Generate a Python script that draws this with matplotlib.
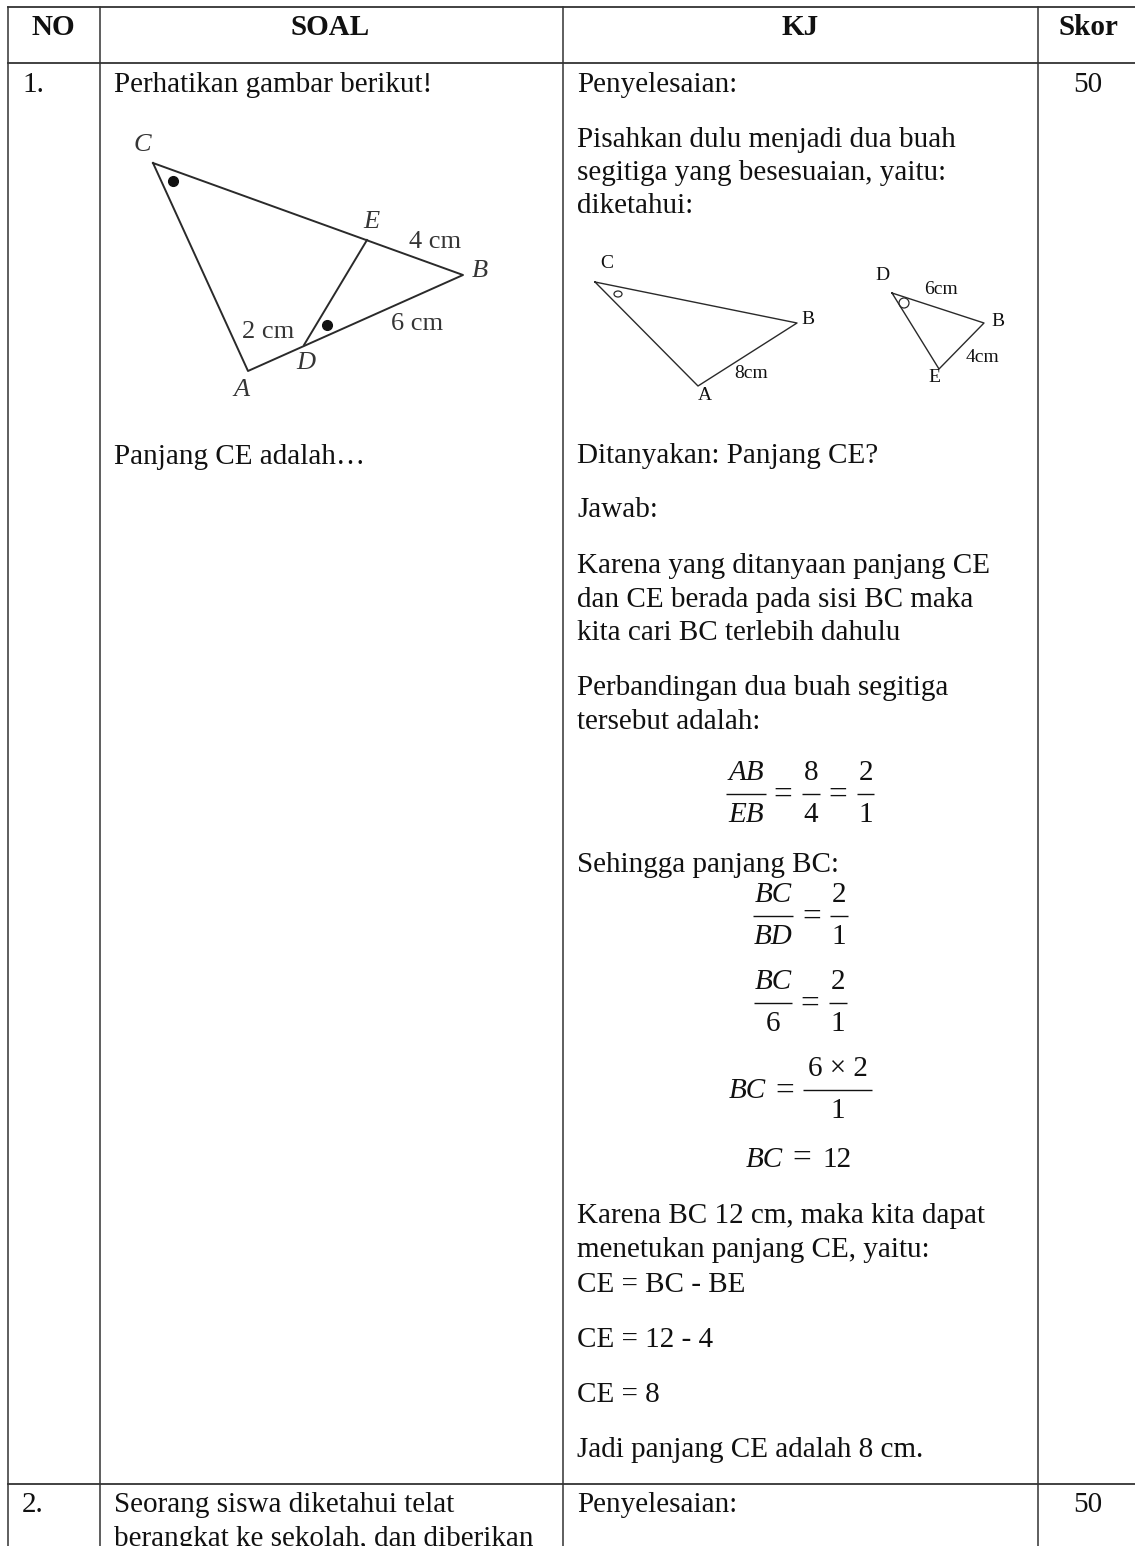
import matplotlib
matplotlib.use('Agg')
import matplotlib.pyplot as plt
from matplotlib.patches import Ellipse

W, H = 1135, 1546
SERIF = 'Liberation Serif'
FS = 21
INK = '#111111'

col_x = [7.5, 100, 563, 1038, 1135]
row_y = [7, 63, 1484]

headers = ['NO', 'SOAL', 'KJ', 'Skor']
header_x = [53, 330, 800, 1088]

# text rows as (text, baseline in picture pixels)
col_no = [('1.', 92), ('2.', 1512)]
col_skor = [('50', 92), ('50', 1512)]
col_soal = [('Perhatikan gambar berikut!', 92),
            ('Panjang CE adalah…', 464),
            ('Seorang siswa diketahui telat', 1512),
            ('berangkat ke sekolah, dan diberikan', 1546)]
col_kj = [('Penyelesaian:', 92),
          ('Pisahkan dulu menjadi dua buah', 147),
          ('segitiga yang besesuaian, yaitu:', 180),
          ('diketahui:', 213),
          ('Ditanyakan: Panjang CE?', 463),
          ('Jawab:', 517),
          ('Karena yang ditanyaan panjang CE', 573),
          ('dan CE berada pada sisi BC maka', 607),
          ('kita cari BC terlebih dahulu', 640),
          ('Perbandingan dua buah segitiga', 695),
          ('tersebut adalah:', 729),
          ('Sehingga panjang BC:', 872),
          ('Karena BC 12 cm, maka kita dapat', 1223),
          ('menetukan panjang CE, yaitu:', 1257),
          ('CE = BC - BE', 1292),
          ('CE = 12 - 4', 1347),
          ('CE = 8', 1402),
          ('Jadi panjang CE adalah 8 cm.', 1457),
          ('Penyelesaian:', 1512)]

# triangle figures, in picture pixels
fig1_lines = [[(153, 163), (463, 275), (248, 371), (153, 163)], [(367, 240), (304, 345)]]
fig1_dots = [(173, 181), (327, 325)]
fig1_labels = [('C', 142, 145, True), ('E', 371, 222, True), ('4 cm', 435, 242, False),
               ('B', 480, 271, True), ('2 cm', 268, 332, False), ('6 cm', 417, 324, False),
               ('D', 306, 363, True), ('A', 242, 390, True)]
fig2_lines = [[(595, 282), (797, 323), (698, 386), (595, 282)],
              [(892, 293), (984, 323), (939, 369), (892, 293)]]
fig2_circles = [(618, 294, 8, 6), (904, 303, 10, 10)]
fig2_labels = [('C', 607, 263), ('B', 808, 320), ('8cm', 751, 374), ('A', 705, 395),
               ('D', 882, 276), ('6cm', 941, 290), ('B', 998, 322), ('4cm', 982, 357),
               ('E', 934, 377)]

fig = plt.figure(figsize=(W / 100, H / 100), dpi=100)
ax = fig.add_axes([0, 0, 1, 1])
ax.set_xlim(0, W)
ax.set_ylim(H, 0)
ax.axis('off')


def put(x, y, s, ha='left', size=FS, va='baseline', **kw):
    ax.text(x, y, s, ha=ha, va=va, family=SERIF, fontsize=size, color=INK, **kw)


def equals(x, y):
    put(x, y + 10, '=', ha='center', size=24)


def frac(x0, x1, y, num, den):
    # fraction with bar from x0 to x1 at height y
    ax.plot([x0, x1], [y, y], color=INK, lw=1.0, solid_capstyle='butt')
    xc = (x0 + x1) / 2
    style = 'italic' if num[0].isalpha() else 'normal'
    put(xc, y - 14, num, ha='center', style=style)
    style = 'italic' if den[0].isalpha() else 'normal'
    put(xc, y + 28, den, ha='center', style=style)


# grid
for x in col_x[:-1]:
    ax.plot([x, x], [row_y[0], H], color='#333333', lw=1.1)
for y in row_y:
    ax.plot([col_x[0], col_x[-1]], [y, y], color='#333333', lw=1.3)

for s, x in zip(headers, header_x):
    put(x, 35, s, ha='center', weight='bold')
for s, y in col_no:
    put(22, y, s)
for s, y in col_skor:
    put(1088, y, s, ha='center')
for s, y in col_soal:
    put(114, y, s)
for s, y in col_kj:
    put(577, y, s)

# figure left
for pts in fig1_lines:
    ax.plot([p[0] for p in pts], [p[1] for p in pts], color='#2a2a2a', lw=1.4)
ax.plot([p[0] for p in fig1_dots], [p[1] for p in fig1_dots], 'o', color=INK, ms=7)
for s, x, y, it in fig1_labels:
    put(x, y, s, ha='center', va='center', size=19, style='italic' if it else 'normal', alpha=0.85)

# figure right
for pts in fig2_lines:
    ax.plot([p[0] for p in pts], [p[1] for p in pts], color='#2a2a2a', lw=1.0)
for cx, cy, w, h in fig2_circles:
    ax.add_patch(Ellipse((cx, cy), w, h, fill=False, ec='#2a2a2a', lw=0.9))
for s, x, y in fig2_labels:
    put(x, y, s, ha='center', va='center', size=14)

# equations
frac(726, 766, 794, 'AB', 'EB')
equals(783, 794)
frac(802, 820, 794, '8', '4')
equals(838, 794)
frac(857, 874, 794, '2', '1')

frac(753, 793, 916, 'BC', 'BD')
equals(812, 916)
frac(830, 848, 916, '2', '1')

frac(754, 792, 1003, 'BC', '6')
equals(810, 1003)
frac(829, 847, 1003, '2', '1')

put(747, 1098, 'BC', ha='center', style='italic')
equals(785, 1090)
frac(803, 872, 1090, '6 × 2', '1')

put(764, 1167, 'BC', ha='center', style='italic')
equals(802, 1157)
put(837, 1167, '12', ha='center')

fig.savefig('out.png', dpi=100)
